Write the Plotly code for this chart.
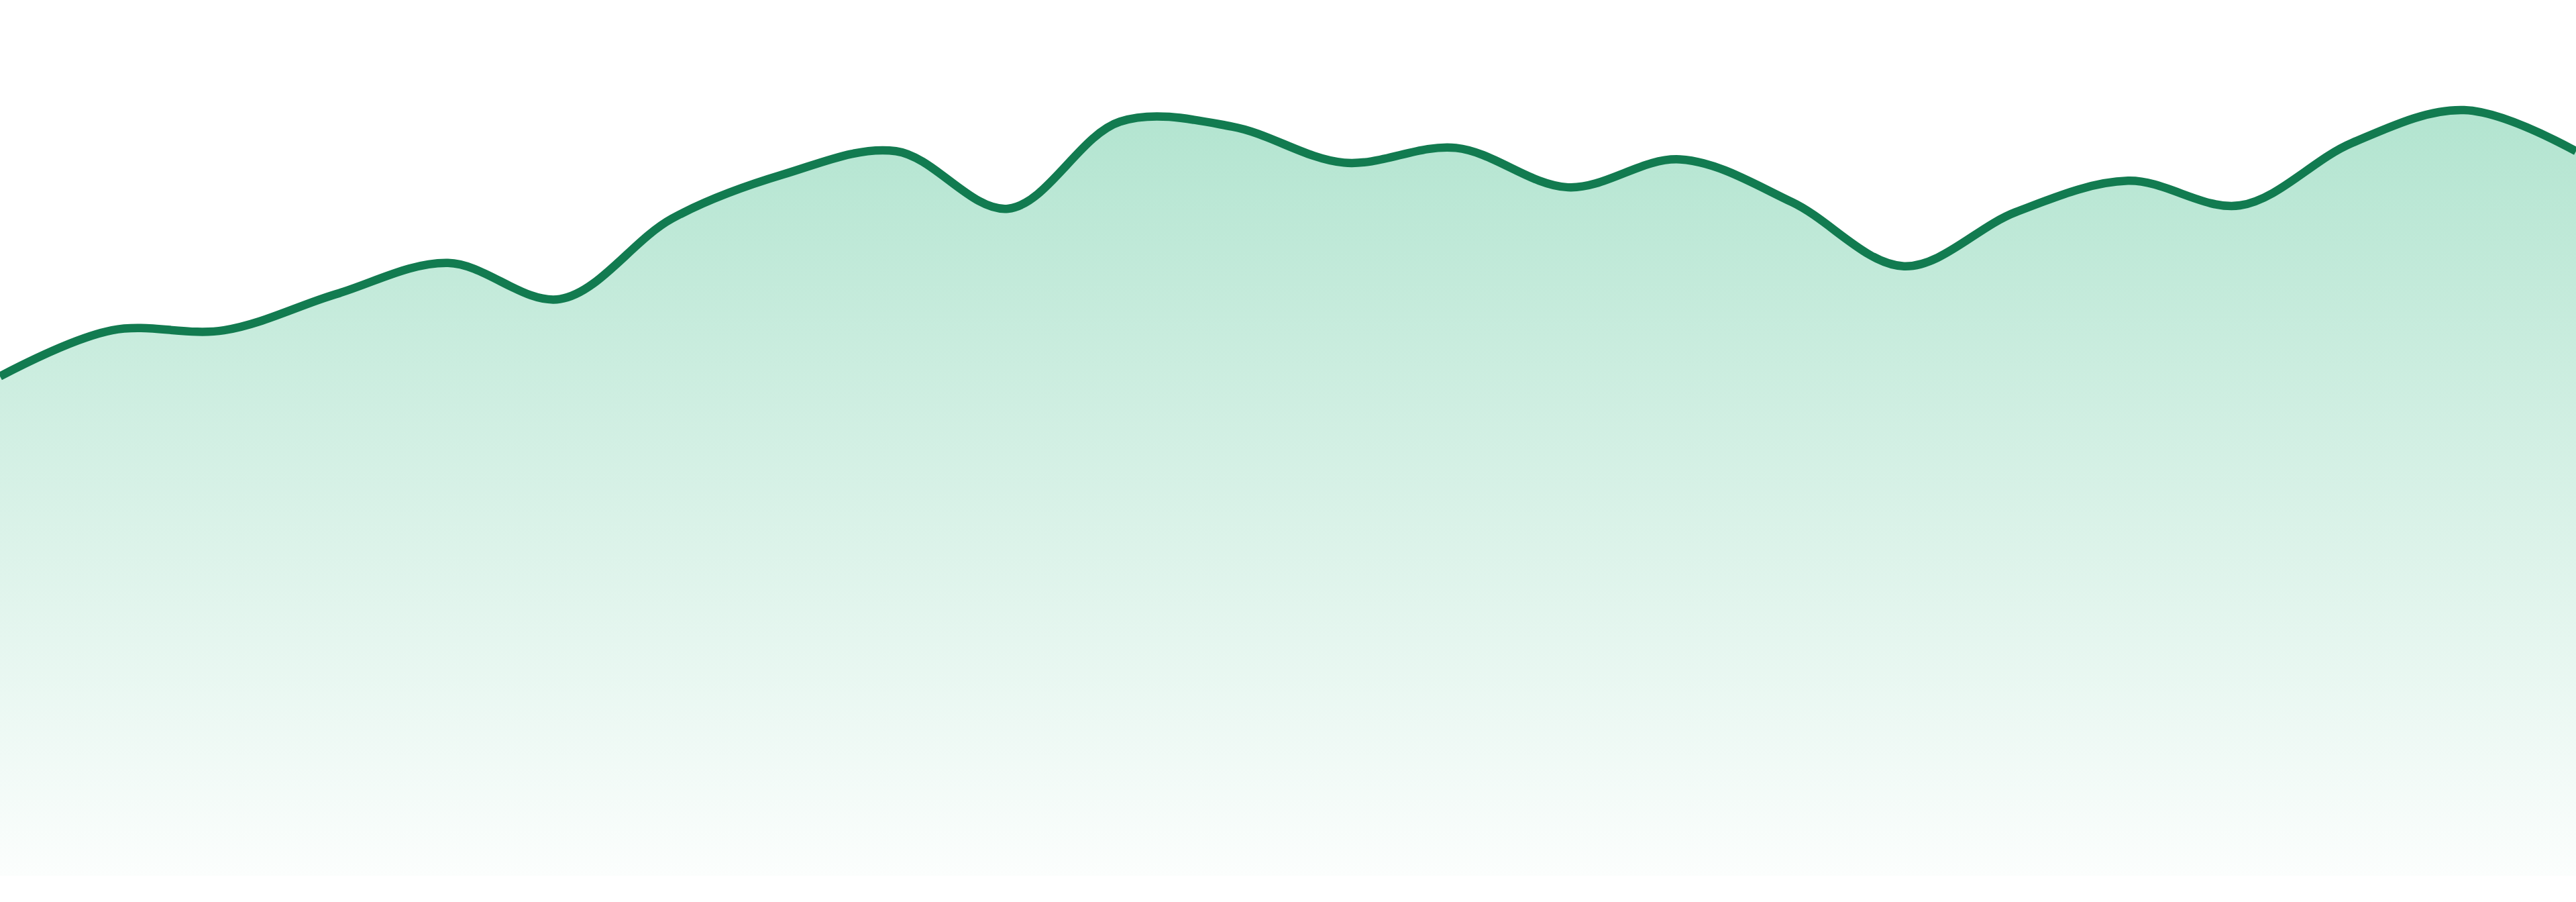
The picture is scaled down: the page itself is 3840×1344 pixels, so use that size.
import plotly.graph_objects as go

# Series (24 evenly spaced points, baseline = 0)
periods = list(range(24))
values = [304, 332, 332, 354, 373, 351, 400, 427, 441, 406, 459, 456,
          434, 443, 419, 436, 410, 371, 404, 423, 408, 446, 466, 441]

LINE_COLOR = "#127b50"

fig = go.Figure()

fig.add_trace(go.Scatter(
    x=periods,
    y=values,
    mode="lines",
    line=dict(color=LINE_COLOR, width=12.5, shape="spline", smoothing=1.0),
    fill="tozeroy",
    fillgradient=dict(
        type="vertical",
        start=0,
        stop=max(values),
        colorscale=[[0, "rgba(16,172,108,0.015)"], [1, "rgba(16,172,108,0.32)"]],
    ),
    hoverinfo="skip",
    showlegend=False,
))

fig.update_layout(
    width=3840,
    height=1344,
    paper_bgcolor="white",
    plot_bgcolor="white",
    margin=dict(l=0, r=0, t=0, b=39),
    xaxis=dict(range=[0, 23], visible=False, fixedrange=True),
    yaxis=dict(range=[0, 533], visible=False, fixedrange=True),
)

# the page body has a default 8px margin; drop it so the chart fills the window
fig.write_html(
    "out.html",
    config={"displayModeBar": False},
    post_script="document.body.style.margin='0';document.body.style.overflow='hidden';",
)
